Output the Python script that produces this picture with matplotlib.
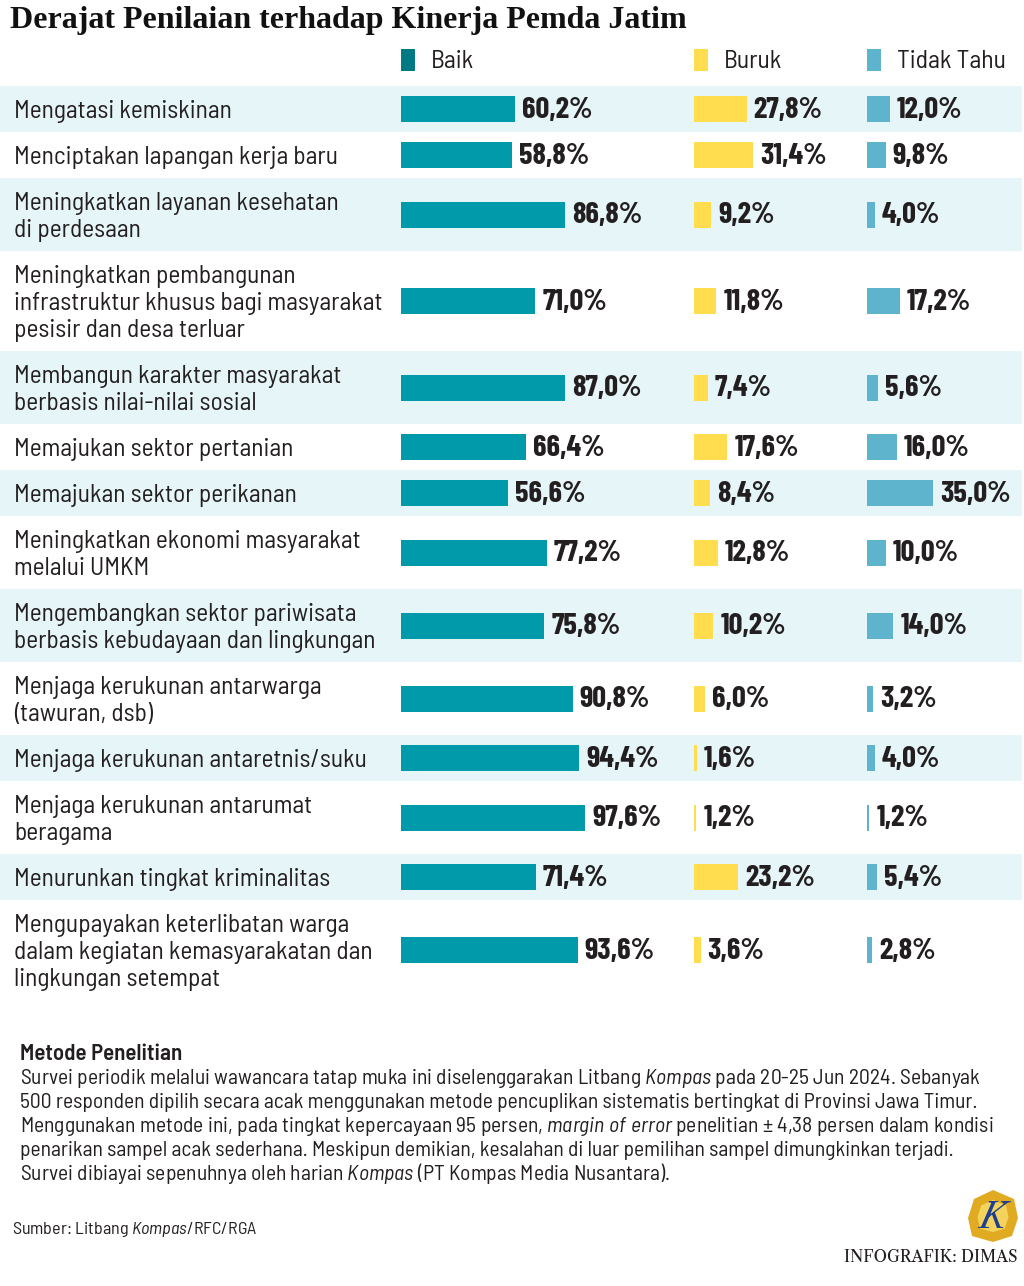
import matplotlib
matplotlib.use("Agg")
import matplotlib.pyplot as plt
from matplotlib import font_manager
from matplotlib.patches import Rectangle, Polygon
import numpy as np

# --- data ---
labels = [
    "Mengatasi kemiskinan",
    "Menciptakan lapangan kerja baru",
    "Meningkatkan layanan kesehatan\ndi perdesaan",
    "Meningkatkan pembangunan\ninfrastruktur khusus bagi masyarakat\npesisir dan desa terluar",
    "Membangun karakter masyarakat\nberbasis nilai-nilai sosial",
    "Memajukan sektor pertanian",
    "Memajukan sektor perikanan",
    "Meningkatkan ekonomi masyarakat\nmelalui UMKM",
    "Mengembangkan sektor pariwisata\nberbasis kebudayaan dan lingkungan",
    "Menjaga kerukunan antarwarga\n(tawuran, dsb)",
    "Menjaga kerukunan antaretnis/suku",
    "Menjaga kerukunan antarumat\nberagama",
    "Menurunkan tingkat kriminalitas",
    "Mengupayakan keterlibatan warga\ndalam kegiatan kemasyarakatan dan\nlingkungan setempat",
]
baik = [60.2, 58.8, 86.8, 71.0, 87.0, 66.4, 56.6, 77.2, 75.8, 90.8, 94.4, 97.6, 71.4, 93.6]
buruk = [27.8, 31.4, 9.2, 11.8, 7.4, 17.6, 8.4, 12.8, 10.2, 6.0, 1.6, 1.2, 23.2, 3.6]
tidak_tahu = [12.0, 9.8, 4.0, 17.2, 5.6, 16.0, 35.0, 10.0, 14.0, 3.2, 4.0, 1.2, 5.4, 2.8]
series_names = ["Baik", "Buruk", "Tidak Tahu"]

title = "Derajat Penilaian terhadap Kinerja Pemda Jatim"
metode_title = "Metode Penelitian"
metode_lines = [
    r"Survei periodik melalui wawancara tatap muka ini diselenggarakan Litbang $\mathit{Kompas}$ pada 20-25 Jun 2024. Sebanyak",
    "500 responden dipilih secara acak menggunakan metode pencuplikan sistematis bertingkat di Provinsi Jawa Timur.",
    r"Menggunakan metode ini, pada tingkat kepercayaan 95 persen, $\mathit{margin\ of\ error}$ penelitian ± 4,38 persen dalam kondisi",
    "penarikan sampel acak sederhana. Meskipun demikian, kesalahan di luar pemilihan sampel dimungkinkan terjadi.",
    r"Survei dibiayai sepenuhnya oleh harian $\mathit{Kompas}$ (PT Kompas Media Nusantara).",
]
sumber = r"Sumber: Litbang $\mathit{Kompas}$/RFC/RGA"
credit = "INFOGRAFIK: DIMAS"

# --- fonts ---
names = {f.name for f in font_manager.fontManager.ttflist}


def pick(cands):
    for c in cands:
        if c in names:
            return c
    return "DejaVu Sans"


NARROW = pick(["Barlow Semi Condensed", "Roboto Condensed", "Liberation Sans Narrow"])
BOLDN = pick(["Barlow Condensed", "Roboto Condensed"])
SERIF = pick(["Liberation Serif", "DejaVu Serif"])
SERIF2 = pick(["Libre Caslon Text", "Liberation Serif"])

plt.rcParams["font.family"] = [NARROW, "DejaVu Sans"]
plt.rcParams["mathtext.fontset"] = "custom"
plt.rcParams["mathtext.rm"] = NARROW
plt.rcParams["mathtext.it"] = NARROW + ":italic"

TXT = "#231f20"
BAND = "#e6f5f7"
bar_colors = ["#009aab", "#ffdd4f", "#5fb4cd"]
legend_colors = ["#007b83", "#ffdd4f", "#5fb4cd"]

W, H = 1024, 1286
fig = plt.figure(figsize=(W / 100, H / 100), dpi=100)
fig.patch.set_facecolor("white")

canvas = fig.add_axes([0, 0, 1, 1])
canvas.set_xlim(0, W)
canvas.set_ylim(H, 0)
canvas.axis("off")

# row layout
top = 86
nlines = [lab.count("\n") + 1 for lab in labels]
heights = [19 + 27 * n for n in nlines]
tops = top + np.concatenate([[0], np.cumsum(heights)[:-1]])
centers = tops + np.array(heights) / 2
bottom = top + sum(heights)

for i, (t, h) in enumerate(zip(tops, heights)):
    if i % 2 == 0:
        canvas.add_patch(Rectangle((0, t), 1022, h, color=BAND, lw=0, zorder=0))
    for j, line in enumerate(labels[i].split("\n")):
        yc = t + 9.5 + 27 * (j + 0.5)
        canvas.text(14, yc + 9, line, fontsize=18.3, color=TXT, va="baseline", ha="left")

canvas.text(10, 28, title, family=SERIF, fontweight="bold", fontsize=23, color="#111", va="baseline")

# bar panels
starts = [401, 694, 867]
scale = 1.89  # px per percent
for k, (vals, x0) in enumerate(zip([baik, buruk, tidak_tahu], starts)):
    ax = fig.add_axes([x0 / W, 1 - bottom / H, 100 * scale / W, (bottom - top) / H])
    ax.set_xlim(0, 100)
    ax.set_ylim(bottom, top)
    ax.axis("off")
    ax.barh(centers, vals, height=26, color=bar_colors[k], edgecolor="none")
    for v, y in zip(vals, centers):
        ax.annotate(f"{v:.1f}%".replace(".", ","), xy=(v, y), xytext=(5, -1), textcoords="offset points",
                    family=BOLDN, fontsize=22, fontweight="bold", color=TXT, va="center",
                    ha="left", annotation_clip=False)
    # legend
    canvas.add_patch(Rectangle((x0, 49), 14, 22, color=legend_colors[k], lw=0))
    canvas.text(x0 + 30, 68, series_names[k], fontsize=18.5, color=TXT, va="baseline", ha="left")

# footer
canvas.text(20, 1060, metode_title, fontsize=16.5, fontweight="semibold", color=TXT, va="baseline")
for i, line in enumerate(metode_lines):
    canvas.text(20, 1084 + 24 * i, line, fontsize=15.5, color=TXT, va="baseline")
canvas.text(12, 1234, sumber, fontsize=13, color=TXT, va="baseline")

# logo (gem shape)
cx, cy = 993, 1216
gem_x = np.array([0, 21, 25, 19, 0, -21, -25, -19])
gem_y = np.array([-26, -17, 2, 20, 26, 20, 2, -17])
canvas.add_patch(Polygon(np.c_[cx + gem_x, cy + gem_y], closed=True, color="#e0ab22", lw=0))
canvas.add_patch(Polygon(np.c_[cx + gem_x * 0.62, cy + gem_y * 0.62], closed=True, color="#f3d35c", lw=0))
canvas.text(cx, cy + 2, "K", family=SERIF2, fontsize=26, color="#1e3f8f", ha="center", va="center",
            style="italic")
canvas.text(1018, 1262, credit, family=SERIF2, fontsize=11.5, color=TXT, ha="right", va="baseline")

fig.savefig("out.png", dpi=100)
